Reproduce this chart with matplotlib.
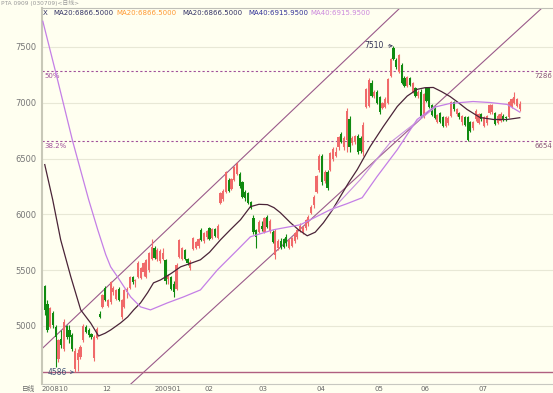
import matplotlib
matplotlib.use('Agg')
import matplotlib.pyplot as plt
import numpy as np

plt.rcParams['font.family'] = ['DejaVu Sans', 'Noto Sans CJK SC']

# ---------------- data ----------------
opens = [5360, 5200, 4990, 5120, 4990, 4700, 4880, 4790, 5000, 4960,
         4920, 4610, 4695, 4720, 4870, 4990, 4960, 4930, 4710, 4890,
         5110, 5170, 5340, 5180, 5215, 5300, 5240, 5330, 5080, 5170,
         5300, 5340, 5440, 5400, 5440, 5430, 5480, 5440, 5500, 5600,
         5700, 5600, 5580, 5600, 5590, 5420, 5440, 5380, 5330, 5620,
         5600, 5680, 5600, 5520, 5690, 5700, 5720, 5860, 5760, 5800,
         5880, 5790, 5870, 5790, 6105, 6140, 6200, 6310, 6230, 6310,
         6360, 6360, 6290, 6200, 6190, 6110, 5970, 5860, 5840, 5900,
         5840, 5980, 5850, 5840, 5640, 5700, 5760, 5780, 5800, 5700,
         5720, 5760, 5800, 5850, 5830, 5880, 5920, 6010, 6080, 6200,
         6400, 6520, 6300, 6380, 6400, 6500, 6520, 6600, 6720, 6600,
         6670, 6850, 6640, 6650, 6700, 6680, 6560, 6960, 6970, 7180,
         7060, 7100, 7050, 6950, 6960, 7000, 7240, 7490, 7380, 7280,
         7340, 7220, 7150, 7220, 7100, 7130, 7060, 7100, 6880, 7130,
         7130, 6980, 6960, 6830, 6910, 6870, 6790, 6820, 6880, 7010,
         6900, 6910, 6830, 6870, 6870, 6830, 6770, 6850, 6820, 6900,
         6790, 6820, 6910, 6920, 6910, 6820, 6840, 6880, 6870, 6870,
         6960, 7000, 6970, 6940]
highs = [5370, 5230, 5170, 5130, 5010, 4880, 4960, 5060, 5010, 5010,
         4940, 4800, 4790, 4830, 5020, 5010, 4980, 4940, 4920, 4990,
         5130, 5290, 5360, 5240, 5400, 5360, 5330, 5345, 5240, 5330,
         5350, 5450, 5450, 5420, 5580, 5530, 5570, 5600, 5660, 5780,
         5720, 5700, 5690, 5700, 5600, 5470, 5450, 5400, 5560, 5780,
         5710, 5690, 5610, 5590, 5800, 5760, 5790, 5880, 5840, 5860,
         5890, 5880, 5880, 5910, 6200, 6230, 6390, 6330, 6330, 6430,
         6465, 6380, 6300, 6220, 6200, 6120, 5990, 5870, 5950, 5940,
         5980, 5990, 5960, 5860, 5870, 5780, 5790, 5790, 5820, 5780,
         5800, 5840, 5870, 5920, 5900, 5960, 5990, 6080, 6170, 6350,
         6540, 6540, 6400, 6400, 6560, 6600, 6600, 6700, 6740, 6700,
         6950, 6880, 6700, 6710, 6720, 6700, 6830, 7130, 7220, 7200,
         7110, 7110, 7060, 7010, 7050, 7220, 7400, 7510, 7400, 7440,
         7360, 7240, 7240, 7230, 7190, 7140, 7110, 7120, 7090, 7140,
         7140, 6990, 6970, 6900, 6920, 6880, 6880, 6880, 7020, 7020,
         6950, 6920, 6890, 6880, 6880, 6840, 6840, 6940, 6910, 6910,
         6880, 6890, 6990, 6990, 6920, 6900, 6920, 6900, 6880, 7020,
         7040, 7100, 7040, 7020]
lows = [5100, 4950, 4980, 4980, 4630, 4680, 4800, 4780, 4880, 4850,
        4780, 4586, 4600, 4700, 4860, 4940, 4900, 4880, 4690, 4880,
        5070, 5160, 5220, 5170, 5200, 5280, 5230, 5220, 5060, 5160,
        5250, 5330, 5380, 5350, 5430, 5420, 5450, 5430, 5480, 5590,
        5600, 5580, 5560, 5590, 5380, 5380, 5320, 5260, 5320, 5610,
        5590, 5590, 5550, 5500, 5680, 5690, 5700, 5760, 5740, 5780,
        5770, 5780, 5800, 5780, 6090, 6120, 6190, 6200, 6220, 6300,
        6350, 6240, 6150, 6120, 6090, 6050, 5820, 5700, 5830, 5850,
        5830, 5880, 5830, 5740, 5600, 5680, 5690, 5700, 5720, 5690,
        5710, 5740, 5780, 5840, 5820, 5860, 5900, 6000, 6060, 6190,
        6380, 6260, 6280, 6220, 6390, 6480, 6510, 6580, 6640, 6580,
        6560, 6560, 6620, 6630, 6540, 6550, 6520, 6950, 6960, 7050,
        7040, 6990, 6900, 6940, 6950, 6990, 7230, 7380, 7300, 7270,
        7170, 7140, 7140, 7150, 7090, 7050, 7040, 6870, 6860, 7010,
        6950, 6880, 6850, 6820, 6820, 6780, 6780, 6800, 6870, 6930,
        6880, 6850, 6800, 6790, 6654, 6740, 6760, 6840, 6810, 6840,
        6780, 6800, 6900, 6900, 6800, 6810, 6830, 6840, 6840, 6860,
        6950, 6990, 6960, 6930]
closes = [5145, 4965, 5160, 5010, 4900, 4870, 4830, 5040, 4900, 4900,
          4790, 4780, 4757, 4810, 5000, 4950, 4920, 4900, 4900, 4970,
          5080, 5280, 5235, 5230, 5395, 5340, 5320, 5230, 5230, 5320,
          5330, 5440, 5390, 5410, 5566, 5520, 5560, 5590, 5650, 5710,
          5610, 5680, 5670, 5650, 5400, 5450, 5330, 5300, 5550, 5770,
          5700, 5600, 5560, 5575, 5790, 5750, 5780, 5770, 5830, 5850,
          5780, 5870, 5810, 5900, 6190, 6210, 6380, 6210, 6320, 6420,
          6450, 6250, 6160, 6150, 6100, 6060, 5840, 5800, 5930, 5870,
          5970, 5890, 5940, 5750, 5850, 5760, 5710, 5710, 5740, 5770,
          5790, 5830, 5860, 5900, 5890, 5950, 5980, 6070, 6160, 6340,
          6520, 6290, 6380, 6240, 6550, 6590, 6560, 6690, 6650, 6680,
          6930, 6600, 6680, 6700, 6560, 6570, 6800, 7120, 7200, 7060,
          7100, 7000, 6915, 7000, 7030, 7210, 7390, 7390, 7320, 7430,
          7180, 7150, 7230, 7160, 7180, 7060, 7100, 6880, 7080, 7020,
          6960, 6890, 6860, 6890, 6830, 6790, 6870, 6860, 7010, 6940,
          6940, 6870, 6880, 6800, 6670, 6750, 6830, 6930, 6900, 6850,
          6870, 6880, 6980, 6980, 6810, 6880, 6900, 6850, 6860, 7010,
          7030, 7050, 7030, 6990]

# moving-average curves (candle index, price)
ma20_idx = [0, 2.9, 5.8, 9.5, 13.1, 16.7, 19.6, 22, 24, 27.6, 30.2, 32.4,
            34.9, 37.5, 39.6, 42.2, 46, 49.5, 53, 56.7, 60, 64, 67.5, 71.3,
            74.9, 78, 81.1, 83.5, 85.8, 89.5, 92.5, 95.6, 98.5, 101.5, 104.5,
            107.6, 110.7, 113.8, 118.5, 123.3, 128.4, 132, 135.6, 138.5,
            141.5, 144.5, 147.6, 150.7, 153.8, 158.5, 163.5, 168.4, 173]
ma20_val = [6446, 6131, 5772, 5440, 5144, 5027, 4910, 4935, 4964, 5027,
            5081, 5144, 5207, 5300, 5386, 5413, 5470, 5530, 5560, 5593,
            5660, 5772, 5860, 5952, 6069, 6090, 6087, 6060, 6015, 5925,
            5860, 5808, 5840, 5925, 6030, 6158, 6285, 6401, 6607, 6787,
            6967, 7060, 7120, 7135, 7137, 7100, 7056, 7000, 6940, 6868,
            6850, 6850, 6866]
ma40_idx = [-0.7, 4, 10.2, 16, 19.3, 22.2, 24, 26.5, 31.3, 34.9, 38.5, 44.7,
            50.5, 56.7, 62.9, 70.2, 74.9, 83.3, 93.1, 104, 110, 115.6, 121,
            128.4, 135.6, 141.5, 147.6, 156, 162.2, 168.4, 173]
ma40_val = [7730, 7272, 6652, 6131, 5862, 5640, 5530, 5440, 5260, 5171,
            5144, 5207, 5260, 5323, 5503, 5682, 5799, 5862, 5907, 6042,
            6095, 6149, 6338, 6580, 6850, 6958, 6994, 7011, 7002, 6985,
            6916]
ma_b_idx = [104, 114.9, 125.8, 142.2]
ma_b_val = [6024, 6311, 6643, 6958]

# channel lines: two points each (candle index, price)
upper_channel = [(-0.36, 4811), (126.2, 7775)]
lower_channel = [(31.3, 4479), (177.8, 7775)]

fib_levels = [7286, 6654]
fib_labels = ['50%', '38.2%']
low_price, high_price = 4586, 7510
low_idx, high_idx = 11, 127

month_pos = [-1, 21, 40, 58, 78, 99, 120, 137, 158]
month_labels = ['200810', '12', '200901', '02', '03', '04', '05', '06', '07']
y_ticks = [5000, 5500, 6000, 6500, 7000, 7500]

legend_items = [('X', '#333366', 43), ('MA20:6866.5000', '#333366', 53),
                ('MA20:6866.5000', '#FF9933', 116), ('MA20:6866.5000', '#333366', 182),
                ('MA40:6915.9500', '#333399', 248), ('MA40:6915.9500', '#CC88DD', 310)]

# ---------------- drawing ----------------
BG = '#FFFFF0'
W, H = 553, 393
fig = plt.figure(figsize=(W / 100, H / 100), dpi=100, facecolor=BG)
ax = fig.add_axes([42 / W, 9 / H, 511 / W, 376 / H], facecolor=BG)

RED = '#F06A6A'
GREEN = '#108A10'
o = np.array(opens); h = np.array(highs); l = np.array(lows); c = np.array(closes)
x = np.arange(len(o))
up = c >= o
cols = np.where(up, RED, GREEN)
ax.vlines(x, l, h, colors=cols, lw=0.8, zorder=3)
body_h = np.maximum(np.abs(c - o), 6)
ax.bar(x, body_h, bottom=np.minimum(o, c), width=0.8, color=cols,
       edgecolor='none', zorder=4)

# moving averages
ax.plot(ma20_idx, ma20_val, color='#4A2438', lw=0.9, zorder=5)
ax.plot(ma40_idx, ma40_val, color='#C47FE6', lw=0.9, zorder=5)
ax.plot(ma_b_idx, ma_b_val, color='#C890E0', lw=0.8, zorder=5)

# channels
ax.axline(upper_channel[0], upper_channel[1], color='#9A5A8A', lw=0.8, zorder=2)
ax.axline(lower_channel[0], lower_channel[1], color='#9A5A8A', lw=0.8, zorder=2)

# fibonacci levels
for lvl, lab in zip(fib_levels, fib_labels):
    ax.axhline(lvl, color='#A0509A', lw=0.8, ls=(0, (2, 2)), zorder=2)
    ax.text(0, lvl - 15, lab, fontsize=5, color='#A0509A', va='top', ha='left')
    ax.text(178.2, lvl - 15, str(lvl), fontsize=5, color='#885577', va='top', ha='left')

# support line at the low
ax.axhline(low_price, color='#B06080', lw=1.0, zorder=2)
ax.annotate(str(low_price), xy=(low_idx - 0.3, low_price), xytext=(1.2, low_price),
            fontsize=5.5, color='#445577', va='center', ha='left',
            arrowprops=dict(arrowstyle='->', lw=0.5, color='#445577',
                            shrinkA=1, shrinkB=0))
ax.annotate(str(high_price), xy=(high_idx - 0.2, high_price), xytext=(116.5, high_price),
            fontsize=5.5, color='#333355', va='center', ha='left',
            arrowprops=dict(arrowstyle='->', lw=0.5, color='#333355',
                            shrinkA=1, shrinkB=0))

# axes
ax.set_xlim(-0.73, 185.1)
ax.set_ylim(4480, 7849)
ax.set_yticks(y_ticks)
ax.set_yticklabels([str(v) for v in y_ticks])
ax.yaxis.grid(True, color='#E8E8D6', lw=0.8, zorder=0)
ax.set_axisbelow(True)
ax.tick_params(axis='y', length=0, labelsize=6, labelcolor='#777777', pad=4)
ax.set_xticks(month_pos)
ax.set_xticklabels(month_labels)
for t in ax.get_xticklabels():
    t.set_horizontalalignment('left')
ax.tick_params(axis='x', length=0, labelsize=5, labelcolor='#666666', pad=1.5)
fig.text(22 / W, 4.5 / H, '日线', fontsize=4.8, color='#666666', ha='left', va='center')

ax.spines['left'].set_color('#C8C8B8')
ax.spines['left'].set_linewidth(1.5)
ax.spines['bottom'].set_color('#C8C8C0')
ax.spines['bottom'].set_linewidth(0.8)
ax.spines['top'].set_color('#C0C0B8')
ax.spines['top'].set_linewidth(0.8)
ax.spines['right'].set_visible(False)

# header and legend
fig.text(1 / W, 1 - 0.5 / H, 'PTA 0909 (030709)<日线>', fontsize=4.2, color='#999999',
         ha='left', va='top')
for txt, col, px in legend_items:
    fig.text(px / W, 1 - 13 / H, txt, fontsize=5, color=col, ha='left', va='center')

fig.savefig('out.png', dpi=100, facecolor=BG)
